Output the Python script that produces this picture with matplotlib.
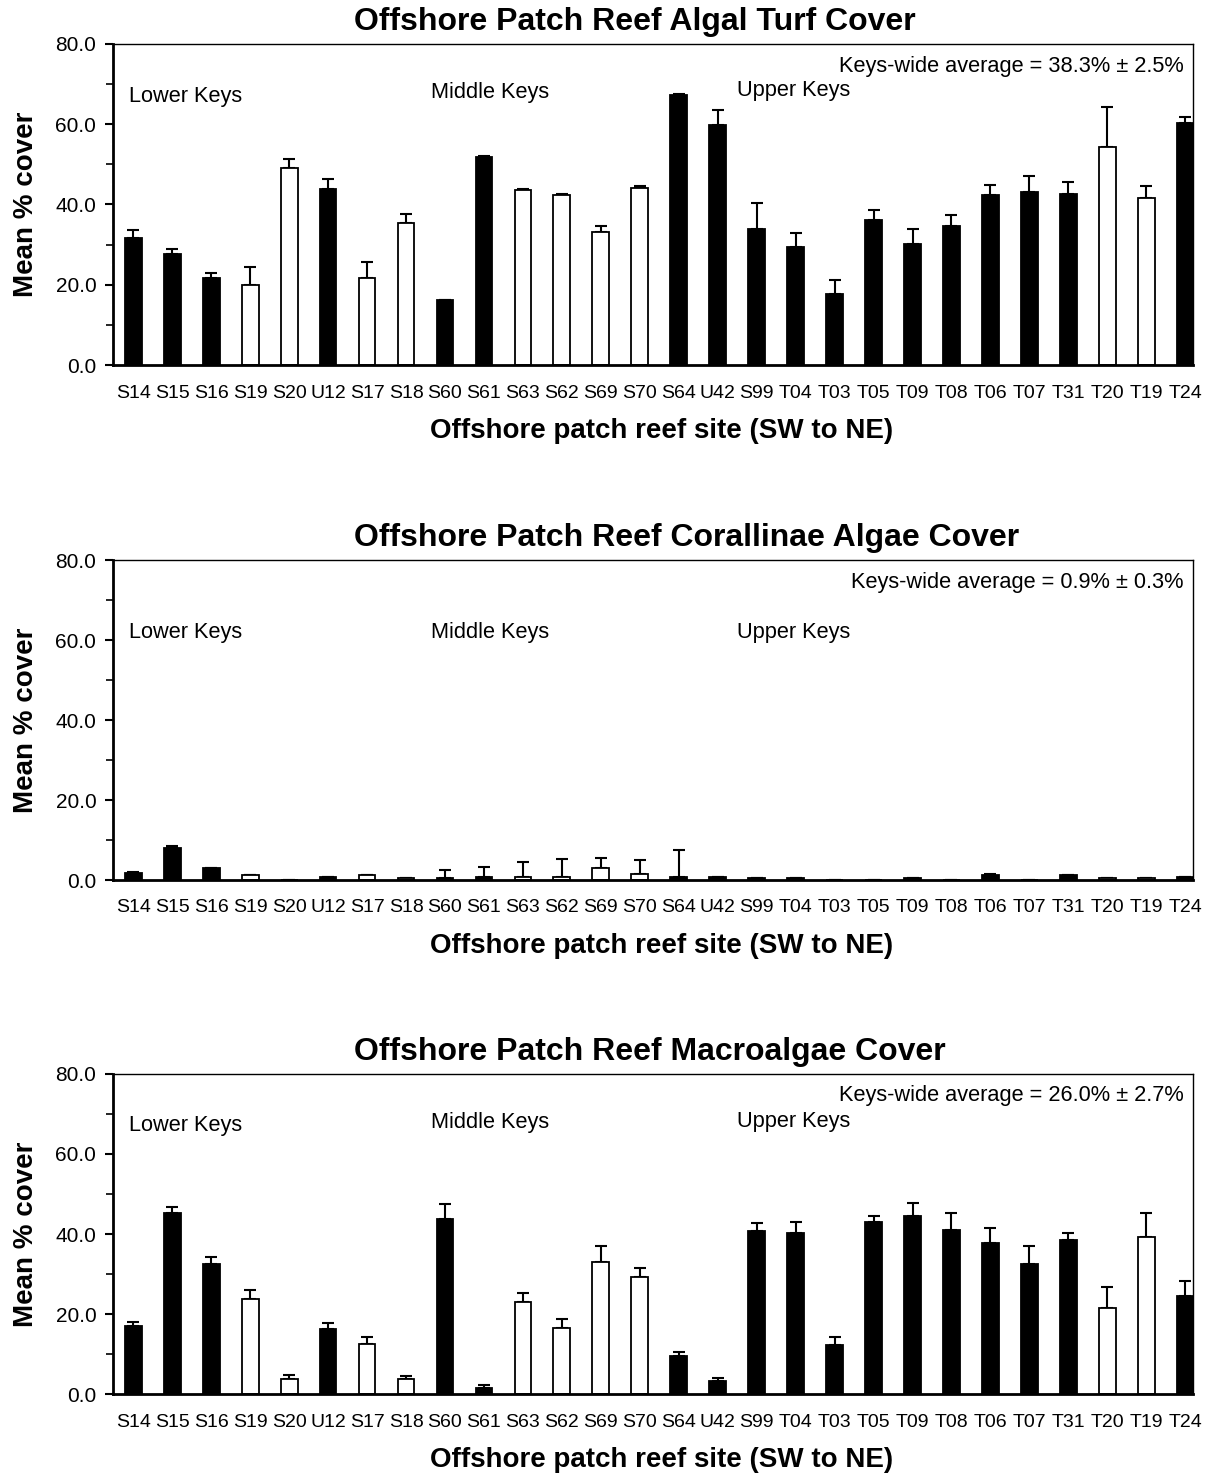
import numpy as np
import matplotlib
matplotlib.use("Agg")
import matplotlib.pyplot as plt
from matplotlib.ticker import MultipleLocator, FormatStrFormatter

plt.rcParams['font.family'] = ['Liberation Sans', 'DejaVu Sans']

### site names and bar fill (1 = black, 0 = white)
sites = ["S14", "S15", "S16", "S19", "S20", "U12", "S17", "S18", "S60", "S61",
         "S63", "S62", "S69", "S70", "S64", "U42", "S99", "T04", "T03", "T05",
         "T09", "T08", "T06", "T07", "T31", "T20", "T19", "T24"]
filled = [1, 1, 1, 0, 0, 1, 0, 0, 1, 1,
          0, 0, 0, 0, 1, 1, 1, 1, 1, 1,
          1, 1, 1, 1, 1, 0, 0, 1]

### Algal turf
turf     = [31.7, 27.6, 21.6, 20.0, 49.1, 43.9, 21.8, 35.5, 16.3, 51.8,
            43.7, 42.4, 33.2, 44.2, 67.3, 59.7, 34.0, 29.5, 17.8, 36.2,
            30.2, 34.7, 42.4, 43.1, 42.7, 54.4, 41.5, 60.4]
turf_se  = [1.9, 1.4, 1.4, 4.5, 2.3, 2.5, 3.9, 2.2, 0.0, 0.3,
            0.1, 0.3, 1.5, 0.3, 0.3, 3.8, 6.3, 3.3, 3.3, 2.5,
            3.6, 2.6, 2.5, 4.1, 2.9, 9.8, 3.0, 1.5]

### Corallinae algae
coral    = [1.7, 8.0, 3.1, 1.2, 0.0, 0.8, 1.2, 0.5, 0.4, 0.8,
            0.8, 0.8, 3.0, 1.4, 0.8, 0.8, 0.4, 0.4, 0.0, 0.0,
            0.4, 0.0, 1.25, 0.0, 1.2, 0.4, 0.4, 0.8]
coral_se = [0.2, 0.4, 0.0, 0.1, 0.0, 0.0, 0.1, 0.0, 2.2, 2.5,
            3.6, 4.4, 2.6, 3.5, 6.7, 0.0, 0.0, 0.0, 0.0, 0.0,
            0.0, 0.0, 0.3, 0.0, 0.0, 0.0, 0.0, 0.0]

### Macroalgae
macro    = [16.9, 45.25, 32.5, 23.7, 3.7, 16.25, 12.4, 3.7, 43.75, 1.5,
            23.0, 16.6, 33.1, 29.3, 9.4, 3.3, 40.75, 40.3, 12.3, 43.0,
            44.5, 41.1, 37.75, 32.4, 38.5, 21.4, 39.2, 24.5]
macro_se = [1.1, 1.4, 1.8, 2.3, 1.1, 1.4, 1.8, 0.7, 3.75, 0.75,
            2.2, 2.2, 3.9, 2.3, 1.0, 0.75, 2.1, 2.6, 1.9, 1.4,
            3.3, 4.1, 3.65, 4.6, 1.75, 5.25, 6.1, 3.75]

titles = ["Offshore Patch Reef Algal Turf Cover",
          "Offshore Patch Reef Corallinae Algae Cover",
          "Offshore Patch Reef Macroalgae Cover"]
averages = ["Keys-wide average = 38.3% \u00b1 2.5%",
            "Keys-wide average = 0.9% \u00b1 0.3%",
            "Keys-wide average = 26.0% \u00b1 2.7%"]
# y of region labels (Lower, Middle, Upper) per panel
region_y = [(67.0, 68.0, 68.5), (61.8, 61.8, 61.8), (67.2, 67.8, 68.2)]

values = [turf, coral, macro]
errors = [turf_se, coral_se, macro_se]

fig = plt.figure(figsize=(12.1, 14.84), dpi=100)
rects = [[0.0934, 0.754, 0.8926, 0.2164],
         [0.0934, 0.4070, 0.8926, 0.2156],
         [0.0934, 0.0606, 0.8926, 0.2157]]

x = np.arange(len(sites))
for i in range(3):
    ax = fig.add_axes(rects[i])
    cols = ["black" if f else "white" for f in filled]
    y = np.array(values[i])
    e = np.array(errors[i])
    ax.errorbar(x, y, yerr=[np.zeros_like(e), e], fmt="none", ecolor="black",
                elinewidth=1.5, capsize=4.5, capthick=1.5, zorder=1)
    ax.bar(x, y, width=0.43, color=cols, edgecolor="black", linewidth=1.3, zorder=2)

    ax.set_xlim(-0.52, 27.2)
    ax.set_ylim(0, 80)
    ax.yaxis.set_major_locator(MultipleLocator(20))
    ax.yaxis.set_minor_locator(MultipleLocator(10))
    ax.yaxis.set_major_formatter(FormatStrFormatter("%.1f"))
    ax.set_xticks(x)
    ax.set_xticklabels(sites, fontsize=14)
    ax.tick_params(axis="x", length=0, pad=14)
    ax.tick_params(axis="y", which="major", direction="out", length=6, width=1.5,
                   labelsize=15, pad=6)
    ax.tick_params(axis="y", which="minor", direction="out", length=5, width=1.2)
    for s in ["left", "bottom"]:
        ax.spines[s].set_linewidth(2)
    for s in ["top", "right"]:
        ax.spines[s].set_linewidth(1)

    # titles start at the same spot in every panel
    ax.set_title(titles[i], fontsize=23, fontweight="bold", pad=10, x=0.223, ha="left")
    ax.set_ylabel("Mean % cover", fontsize=20, fontweight="bold", labelpad=12)
    ax.set_xlabel("Offshore patch reef site (SW to NE)", fontsize=20, fontweight="bold", labelpad=12)
    ax.xaxis.label.set_x(0.508)

    ax.text(26.95, 74.5, averages[i], fontsize=15.7, ha="right", va="center")
    ax.text(-0.12, region_y[i][0], "Lower Keys", fontsize=15.7, va="center")
    ax.text(7.65, region_y[i][1], "Middle Keys", fontsize=15.7, va="center")
    ax.text(15.5, region_y[i][2], "Upper Keys", fontsize=15.7, va="center")

plt.savefig("out.png", dpi=100)
